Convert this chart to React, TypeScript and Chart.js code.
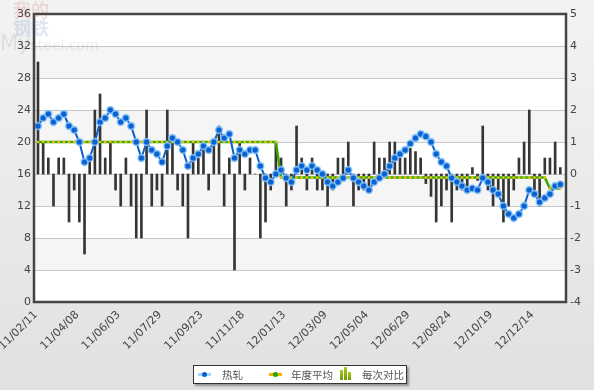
import React, { useEffect, useRef } from 'react';
import { Chart, registerables } from 'chart.js';

Chart.register(...registerables);

// x-axis tick labels (one every 8 weekly points)
const tickLabels = [
  '11/02/11', '11/04/08', '11/06/03', '11/07/29', '11/09/23', '11/11/18', '12/01/13',
  '12/03/09', '12/05/04', '12/06/29', '12/08/24', '12/10/19', '12/12/14',
];
const tickEvery = 8;

// 热轧 weekly values (left axis)
const hotRolled = [
  22, 23, 23.5, 22.5, 23, 23.5, 22, 21.5, 20, 17.5,
  18, 20, 22.5, 23, 24, 23.5, 22.5, 23, 22, 20,
  18, 20, 19, 18.5, 17.5, 19.5, 20.5, 20, 19, 17,
  18, 18.5, 19.5, 19, 20, 21.5, 20.5, 21, 18, 19,
  18.5, 19, 19, 17, 15.5, 15, 16, 16.5, 15.5, 15,
  16.5, 17, 16.5, 17, 16.5, 16, 15, 14.5, 15, 15.5,
  16.5, 15.5, 15, 14.5, 14, 15, 15.5, 16, 17, 18,
  18.5, 19, 19.8, 20.5, 21, 20.7, 20, 18.5, 17.5, 17,
  15.5, 15, 14.5, 14, 14.2, 14, 15.5, 15, 14, 13.5,
  12, 11, 10.5, 11, 12, 14, 13.5, 12.5, 13, 13.5,
  14.5, 14.7,
];

// 每次对比 weekly change (right axis)
const weeklyChange = [
  3.5, 1, 0.5, -1, 0.5, 0.5, -1.5, -0.5, -1.5, -2.5,
  0.5, 2, 2.5, 0.5, 1, -0.5, -1, 0.5, -1, -2,
  -2, 2, -1, -0.5, -1, 2, 1, -0.5, -1, -2,
  1, 0.5, 1, -0.5, 1, 1.5, -1, 0.5, -3, 1,
  -0.5, 0.5, 0, -2, -1.5, -0.5, 1, 0.5, -1, -0.5,
  1.5, 0.5, -0.5, 0.5, -0.5, -0.5, -1, -0.5, 0.5, 0.5,
  1, -1, -0.5, -0.5, -0.5, 1, 0.5, 0.5, 1, 1,
  0.5, 0.5, 0.8, 0.7, 0.5, -0.3, -0.7, -1.5, -1, -0.5,
  -1.5, -0.5, -0.5, -0.5, 0.2, -0.2, 1.5, -0.5, -1, -0.5,
  -1.5, -1, -0.5, 0.5, 1, 2, -0.5, -1, 0.5, 0.5,
  1, 0.2,
];

// 年度平均 (yearly average) and the index where each year starts
const yearAverage = [20, 15.55, 14.2];
const yearFirstIndex = [0, 47, 99];

const leftTicks = [0, 4, 8, 12, 16, 20, 24, 28, 32, 36];
const grayBandTops = [32, 24, 16, 8];

function averageFor(i: number): number {
  let v = yearAverage[0];
  for (let k = 0; k < yearFirstIndex.length; k++) {
    if (i >= yearFirstIndex[k]) v = yearAverage[k];
  }
  return v;
}

const framePlugin = {
  id: 'frame',
  beforeDraw(chart: any) {
    const { ctx, chartArea: a, scales } = chart;
    const y = scales.y;
    ctx.save();
    ctx.fillStyle = '#ffffff';
    ctx.fillRect(a.left, a.top, a.right - a.left, a.bottom - a.top);
    ctx.fillStyle = '#f5f5f5';
    grayBandTops.forEach((t) => {
      const y1 = y.getPixelForValue(t);
      const y2 = y.getPixelForValue(t - 4);
      ctx.fillRect(a.left, y1, a.right - a.left, y2 - y1);
    });
    ctx.restore();
  },
  afterDraw(chart: any) {
    const { ctx, chartArea: a, scales } = chart;
    ctx.save();
    ctx.strokeStyle = '#454545';
    ctx.lineWidth = 2.5;
    ctx.strokeRect(a.left, a.top, a.right - a.left, a.bottom - a.top);
    // rotated x-axis labels
    ctx.fillStyle = '#444';
    ctx.font = '11px "DejaVu Sans"';
    ctx.textAlign = 'right';
    ctx.textBaseline = 'middle';
    tickLabels.forEach((lab, k) => {
      const x = scales.x.getPixelForValue(k * tickEvery);
      ctx.save();
      ctx.translate(x - 2, a.bottom + 11);
      ctx.rotate(-Math.PI / 4);
      ctx.fillText(lab, 0, 0);
      ctx.restore();
    });
    ctx.restore();
  },
};

export default function App() {
  const ref = useRef<HTMLCanvasElement | null>(null);

  useEffect(() => {
    if (!ref.current) return;
    const font = { family: 'DejaVu Sans', size: 11 };
    const chart = new Chart(ref.current, {
      type: 'bar',
      data: {
        datasets: [
          {
            type: 'line',
            label: '热轧',
            data: hotRolled.map((v, i) => ({ x: i, y: v })),
            yAxisID: 'y',
            borderColor: '#0c5fc9',
            borderWidth: 2,
            pointRadius: 3.4,
            pointBackgroundColor: '#0a62d2',
            pointBorderColor: 'rgba(140,200,250,0.8)',
            pointBorderWidth: 1.6,
            tension: 0,
            order: 1,
          } as any,
          {
            type: 'line',
            label: '年度平均',
            data: hotRolled.map((_, i) => ({ x: i, y: averageFor(i) })),
            yAxisID: 'y',
            borderColor: '#3aa800',
            borderWidth: 2.5,
            pointRadius: 1.3,
            pointBackgroundColor: '#f2c400',
            pointBorderWidth: 0,
            tension: 0,
            order: 2,
          } as any,
          {
            type: 'bar',
            label: '每次对比',
            data: weeklyChange.map((v, i) => ({ x: i, y: v })),
            yAxisID: 'y2',
            backgroundColor: '#353535',
            barThickness: 2,
            order: 3,
          } as any,
        ],
      },
      options: {
        animation: false,
        responsive: false,
        events: [],
        layout: { padding: { top: 14, left: 0, right: 0, bottom: 0 } },
        plugins: { legend: { display: false }, tooltip: { enabled: false } },
        scales: {
          x: {
            type: 'linear',
            min: -0.77,
            max: 102.1,
            offset: false,
            grid: { display: false, drawTicks: false },
            border: { display: false },
            ticks: { display: false },
            afterFit: (s: any) => {
              s.height = 88;
              s.paddingLeft = 0;
              s.paddingRight = 0;
            },
          },
          y: {
            position: 'left',
            min: 0,
            max: 36,
            afterBuildTicks: (s: any) => {
              s.ticks = leftTicks.map((v) => ({ value: v }));
            },
            afterFit: (s: any) => {
              s.width = 34;
              s.paddingTop = 0;
              s.paddingBottom = 0;
            },
            grid: { color: '#c6c6c6', drawTicks: false, lineWidth: 1 },
            border: { display: false },
            ticks: { color: '#444', font, padding: 3 },
          },
          y2: {
            position: 'right',
            min: -4,
            max: 5,
            ticks: { stepSize: 1, color: '#444', font, padding: 4 },
            afterFit: (s: any) => {
              s.width = 28;
              s.paddingTop = 0;
              s.paddingBottom = 0;
            },
            grid: { display: false, drawTicks: false },
            border: { display: false },
          },
        },
      },
      plugins: [framePlugin],
    });
    return () => chart.destroy();
  }, []);

  const legendText: React.CSSProperties = {
    fontFamily: '"Noto Sans CJK SC", sans-serif',
    fontSize: 10.5,
    color: '#555',
    position: 'absolute',
    top: 0,
    lineHeight: '17px',
    whiteSpace: 'nowrap',
  };
  const barIcon: React.CSSProperties = {
    position: 'absolute',
    width: 3,
    background: 'linear-gradient(#a8cc20,#6f9a00)',
  };

  return (
    <div
      style={{
        position: 'fixed',
        left: 0,
        top: 0,
        width: 594,
        height: 390,
        background: 'linear-gradient(#f3f3f3, #e1e1e1)',
        overflow: 'hidden',
      }}
    >
      <canvas ref={ref} width={594} height={390} style={{ position: 'absolute', left: 0, top: 0 }} />
      <div style={{ position: 'absolute', left: 13, top: 0, pointerEvents: 'none', lineHeight: '18px', fontFamily: '"Noto Sans CJK SC"', fontSize: 18, fontWeight: 'bold' }}>
        <div style={{ color: 'rgba(200,70,70,0.16)' }}>我的</div>
        <div style={{ color: 'rgba(70,100,180,0.16)' }}>钢铁</div>
      </div>
      <div style={{ position: 'absolute', left: 0, top: 31, pointerEvents: 'none', fontFamily: 'DejaVu Sans', color: 'rgba(0,0,0,0.08)', whiteSpace: 'nowrap' }}>
        <span style={{ fontSize: 21 }}>My</span>
        <span style={{ fontSize: 14 }}>steel.com</span>
      </div>
      <div
        style={{
          position: 'absolute',
          left: 193,
          top: 365,
          width: 212,
          height: 17,
          background: '#fff',
          border: '1px solid #333',
          boxShadow: '2px 2px 2px rgba(0,0,0,0.35)',
        }}
      >
        <div style={{ position: 'absolute', left: 4, top: 7, width: 13, height: 3, background: '#a8d6f8' }} />
        <div style={{ position: 'absolute', left: 8, top: 6, width: 5, height: 5, borderRadius: 3, background: '#0a5fd0' }} />
        <div style={{ ...legendText, left: 28 }}>热轧</div>
        <div style={{ position: 'absolute', left: 75, top: 7, width: 13, height: 3, background: '#f0b400' }} />
        <div style={{ position: 'absolute', left: 79, top: 6, width: 5, height: 5, borderRadius: 3, background: '#2ea400' }} />
        <div style={{ ...legendText, left: 97 }}>年度平均</div>
        <div style={{ ...barIcon, left: 146, top: 4, height: 10 }} />
        <div style={{ ...barIcon, left: 150, top: 1, height: 13 }} />
        <div style={{ ...barIcon, left: 154, top: 6, height: 8 }} />
        <div style={{ ...legendText, left: 168 }}>每次对比</div>
      </div>
    </div>
  );
}
